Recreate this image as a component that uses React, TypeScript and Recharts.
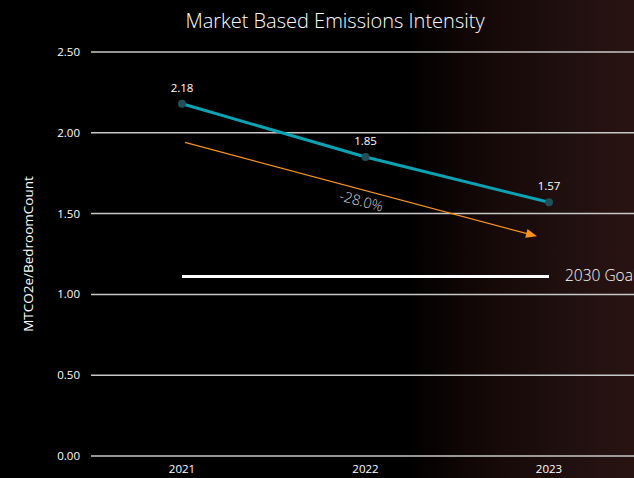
import React from 'react';
import { LineChart, Line, XAxis, YAxis, CartesianGrid, ReferenceLine, LabelList } from 'recharts';

const years = ['2021', '2022', '2023'];
const intensity = [2.18, 1.85, 1.57];
const goal = [1.11, 1.11, 1.11];
const yTicks = [0, 0.5, 1, 1.5, 2, 2.5];
const trendStart = 1.94;
const trendEnd = 1.34;
const trendLabel = '-28.0%';
const goalLabel = '2030 Goal';

const data = years.map((year, i) => ({ year, intensity: intensity[i], goal: goal[i] }));

const FONT = '"Open Sans", "DejaVu Sans", sans-serif';

// orange trend arrow, drawn from the reference line segment coordinates
const TrendArrow = (props: any) => {
	const { x1, y1, x2, y2 } = props;
	if (x1 == null || x2 == null) return null;
	const sx = x1 + 3;
	const ex = x2 - 12;
	const ey = y1 + ((y2 - y1) * (ex - x1)) / (x2 - x1);
	const ang = Math.atan2(ey - y1, ex - sx);
	const deg = (ang * 180) / Math.PI;
	const mx = (sx + ex) / 2;
	const my = (y1 + ey) / 2 + 13;
	return (
		<g>
			<line x1={sx} y1={y1} x2={ex - 6} y2={ey - 6 * Math.tan(ang)} stroke="#f7931e" strokeWidth={1.3} />
			<polygon
				points="0,0 -11,-4.5 -11,4.5"
				fill="#f7931e"
				transform={`translate(${ex},${ey}) rotate(${deg})`}
			/>
			<text
				x={mx}
				y={my}
				fill="#d9d9d9"
				fontSize={14.5}
				fontFamily={FONT}
				fontWeight={300}
				textAnchor="middle"
				dominantBaseline="middle"
				transform={`rotate(${deg} ${mx} ${my})`}
			>
				{trendLabel}
			</text>
		</g>
	);
};

const GoalLabel = (props: any) => {
	const { x, y, index } = props;
	if (index !== years.length - 1) return null;
	return (
		<text x={x + 16} y={y} fill="#ffffff" fontSize={15.5} fontFamily={FONT} fontWeight={300} dominantBaseline="middle">
			{goalLabel}
		</text>
	);
};

export default function App() {
	return (
		<div
			style={{
				position: 'fixed',
				left: 0,
				top: 0,
				width: 634,
				height: 478,
				overflow: 'hidden',
				background: 'linear-gradient(90deg, #000 0%, #000 64%, #140807 76%, #211010 90%, #281311 100%)',
				fontFamily: FONT,
			}}
		>
			<div
				style={{
					position: 'absolute',
					top: 7,
					left: 0,
					width: 670,
					textAlign: 'center',
					color: '#ffffff',
					fontSize: 20,
					fontWeight: 300,
				}}
			>
				Market Based Emissions Intensity
			</div>
			<div style={{ position: 'absolute', left: 0, top: 0 }}>
				<LineChart width={641} height={478} data={data} margin={{ top: 52, right: 0, left: 0, bottom: 0 }}>
					<CartesianGrid vertical={false} stroke="#c8c8c8" strokeWidth={1.5} />
					<XAxis
						dataKey="year"
						axisLine={false}
						tickLine={false}
						height={22}
						tickMargin={3}
						padding={{ left: 91, right: 92 }}
						tick={{ fill: '#ffffff', fontSize: 11.5, fontFamily: FONT }}
					/>
					<YAxis
						domain={[0, 2.5]}
						ticks={yTicks}
						width={91}
						axisLine={false}
						tickLine={false}
						tickMargin={5}
						tickFormatter={(v: number) => v.toFixed(2)}
						tick={{ fill: '#ffffff', fontSize: 11.5, fontFamily: FONT }}
						label={{
							value: 'MTCO2e/BedroomCount',
							angle: -90,
							position: 'insideLeft',
							offset: 28,
							style: { fill: '#ffffff', fontSize: 13.5, fontFamily: FONT, textAnchor: 'middle' },
						}}
					/>
					<ReferenceLine
						segment={[
							{ x: years[0], y: trendStart },
							{ x: years[years.length - 1], y: trendEnd },
						]}
						stroke="#f7931e"
						shape={TrendArrow}
						ifOverflow="visible"
					/>
					<Line
						dataKey="goal"
						stroke="#ffffff"
						strokeWidth={3}
						dot={false}
						activeDot={false}
						isAnimationActive={false}
					>
						<LabelList dataKey="goal" content={GoalLabel} />
					</Line>
					<Line
						dataKey="intensity"
						stroke="#0aa3b4"
						strokeWidth={3}
						dot={{ r: 4, fill: '#21505a', stroke: '#21505a', strokeWidth: 0 }}
						activeDot={false}
						isAnimationActive={false}
					>
						<LabelList
							dataKey="intensity"
							position="top"
							offset={12}
							formatter={(v: any) => Number(v).toFixed(2)}
							style={{ fill: '#ffffff', fontSize: 11.5, fontFamily: FONT }}
						/>
					</Line>
				</LineChart>
			</div>
		</div>
	);
}
